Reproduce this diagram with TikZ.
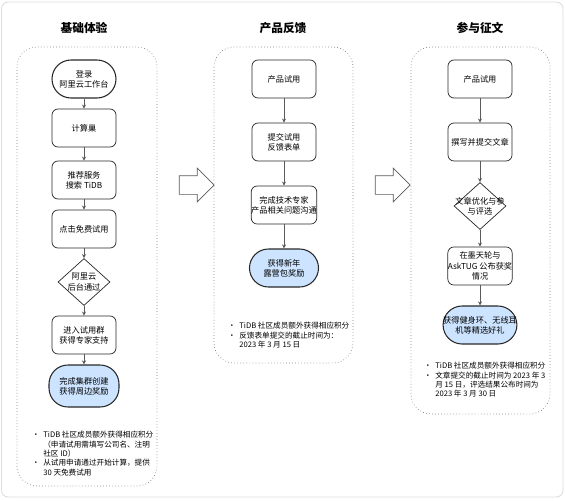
\documentclass[tikz,border=0pt]{standalone}
\usepackage{fontspec}
\setmainfont{Noto Sans CJK SC}
\usepackage{xcolor}
\usepackage{tikz}
\usetikzlibrary{arrows.meta, positioning, shapes.geometric, shapes.arrows}
\definecolor{flowBlue}{RGB}{204,228,255}
\definecolor{flowInk}{RGB}{40,40,40}
\definecolor{flowGrey}{RGB}{90,90,90}
\definecolor{frameGrey}{RGB}{222,222,222}
\definecolor{dotGrey}{RGB}{130,130,130}

\tikzset{
  stepbox/.style={rectangle, rounded corners=0.18cm, draw=flowInk, line width=0.6pt,
                  fill=white, minimum width=1.92cm, minimum height=1.14cm, inner sep=0pt,
                  align=center, font=\fontsize{7}{8.7}\selectfont},
  startbox/.style={stepbox, rounded corners=0.57cm, line width=0.9pt},
  endbox/.style={startbox, fill=flowBlue},
  gatebox/.style={diamond, draw=flowInk, line width=0.6pt, fill=white,
                  minimum width=1.56cm, minimum height=1.41cm, inner sep=0pt},
  gatetext/.style={align=center, inner sep=0pt, font=\fontsize{7}{8.7}\selectfont},
  flowline/.style={draw=flowGrey, line width=0.6pt, -{Stealth[length=3.5pt, width=3.5pt]}},
  lane/.style={draw=dotGrey, dotted, line width=0.6pt, rounded corners=0.6cm},
  lanetitle/.style={font=\fontsize{10}{12}\selectfont\bfseries},
  notes/.style={anchor=north west, inner sep=0pt, font=\fontsize{6.5}{8}\selectfont},
  movearrow/.style={single arrow, draw=flowGrey, fill=white, line width=0.6pt,
                    minimum height=1.05cm, inner xsep=0pt, inner ysep=0.27cm,
                    single arrow head extend=0.225cm},
}

\begin{document}
\begin{tikzpicture}[x=0.03cm, y=-0.03cm]
\useasboundingbox (0,0) rectangle (565,500);
\draw[frameGrey, line width=0.8pt, rounded corners=0.2cm] (1.5,2) rectangle (563,497);

% three lanes
\draw[lane] (17,47) rectangle (157,486);
\draw[lane] (214,47) rectangle (353,363);
\draw[lane] (411,47) rectangle (550,414);

\node[lanetitle] (title1) at (84,28) {基础体验};
\node[lanetitle] (title2) at (283,28) {产品反馈};
\node[lanetitle] (title3) at (480,28) {参与征文};

% lane 1
\node[startbox] (login) at (84,79) {登录\\阿里云工作台};
\node[stepbox] (nest) at (84,128) {计算巢};
\node[stepbox] (search) at (84,180) {推荐服务\\搜索 TiDB};
\node[stepbox] (trial) at (84,229) {点击免费试用};
\node[gatebox, label={[gatetext]center:{阿里云\\后台通过}}] (pass) at (84,282) {};
\node[stepbox] (group) at (84,335) {进入试用群\\获得专家支持};
\node[endbox, minimum width=2.1cm, minimum height=1.26cm] (gift) at (84,386) {完成集群创建\\获得周边奖励};

\draw[flowline] (login) -- (nest);
\draw[flowline] (nest) -- (search);
\draw[flowline] (search) -- (trial);
\draw[flowline] (trial) -- (pass);
\draw[flowline] (pass) -- (group);
\draw[flowline] (group) -- (gift);

\node[notes] (notes1) at (32,431) {\begin{tabular}{@{}l@{\hspace{3pt}}l@{}}
  • & TiDB 社区成员额外获得相应积分\\
    & （申请试用需填写公司名、注明\\
    & 社区 ID）\\
  • & 从试用申请通过开始计算，提供\\
    & 30 天免费试用
\end{tabular}};

% lane 2
\node[stepbox] (use2) at (284,79) {产品试用};
\node[stepbox] (form) at (284,142) {提交试用\\反馈表单};
\node[stepbox] (talk) at (284,205) {完成技术专家\\产品相关问题沟通};
\node[endbox, minimum width=2.07cm] (camp) at (284,268) {获得新年\\露营包奖励};

\draw[flowline] (use2) -- (form);
\draw[flowline] (form) -- (talk);
\draw[flowline] (talk) -- (camp);

\node[notes] (notes2) at (228,322) {\begin{tabular}{@{}l@{\hspace{3pt}}l@{}}
  • & TiDB 社区成员额外获得相应积分\\
  • & 反馈表单提交的截止时间为：\\
    & 2023 年 3 月 15 日
\end{tabular}};

% lane 3
\node[stepbox] (use3) at (480,79) {产品试用};
\node[stepbox] (write) at (480,142) {撰写并提交文章};
\node[gatebox, label={[gatetext]center:{文章优化与参\\与评选}}] (judge) at (480,206) {};
\node[stepbox] (award) at (480,266) {在墨天轮与\\AskTUG 公布获奖\\情况};
\node[endbox, minimum width=2.16cm] (prize) at (480,325) {获得健身环、无线耳\\机等精选好礼};

\draw[flowline] (use3) -- (write);
\draw[flowline] (write) -- (judge);
\draw[flowline] (judge) -- (award);
\draw[flowline] (award) -- (prize);

\node[notes] (notes3) at (424,362) {\begin{tabular}{@{}l@{\hspace{3pt}}l@{}}
  • & TiDB 社区成员额外获得相应积分\\
  • & 文章提交的截止时间为 2023 年 3\\
    & 月 15 日，评选结果公布时间为\\
    & 2023 年 3 月 30 日
\end{tabular}};

% arrows between lanes
\node[movearrow] (go1) at (192,185) {};
\node[movearrow] (go2) at (388,185) {};
\end{tikzpicture}
\end{document}
